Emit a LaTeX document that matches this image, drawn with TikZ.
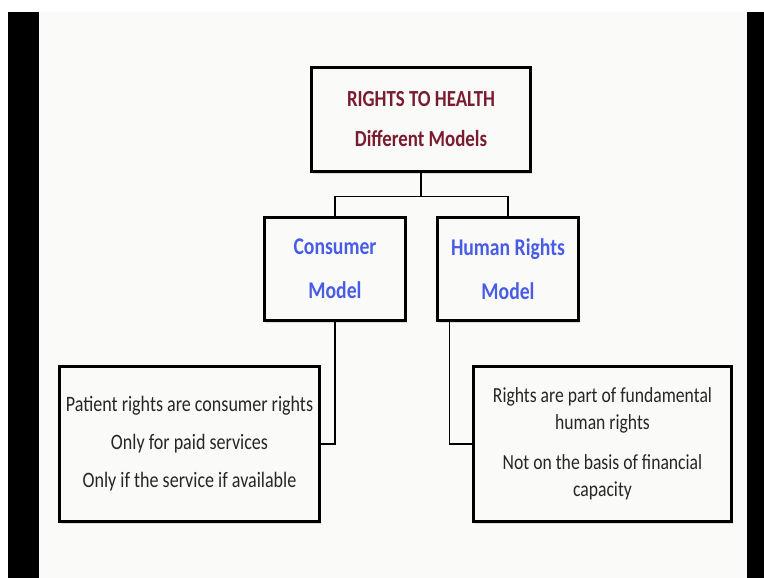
\documentclass[tikz,border=0pt]{standalone}
\usepackage{fontspec}
\setmainfont{Carlito}[FakeStretch=0.82]
\usetikzlibrary{shadows}
\definecolor{titlered}{RGB}{122,28,48}
\definecolor{modelblue}{RGB}{72,92,230}
\definecolor{paper}{RGB}{250,251,249}
\begin{document}
\begin{tikzpicture}[x=1pt,y=-1pt,
	box/.style={draw,line width=3pt,fill=paper,inner sep=0pt,align=center,drop shadow={shadow xshift=1pt,shadow yshift=-2pt,opacity=0.25}},
	modelbox/.style={box,minimum width=141pt,minimum height=103pt,text=modelblue,font=\fontsize{24}{44}\selectfont\bfseries},
	textbox/.style={box,minimum height=155pt,text=black!85},
	link/.style={line width=1.5pt}]
	\useasboundingbox(0,0)rectangle(764,578);
	\fill[white](0,0)rectangle(764,578);
	\fill[paper](39,12)rectangle(747,578);
	\fill[black](8,12)rectangle(39,578);
	\fill[black](747,12)rectangle(764,578);
	\node[box,minimum width=219pt,minimum height=104pt,text=titlered,font=\fontsize{23}{40}\selectfont\bfseries](rights)at(421,119.5){RIGHTS TO HEALTH\\Different Models};
	\node[modelbox](consumer)at(335,269){Consumer\\Model};
	\node[modelbox](humanrights)at(508,269){Human Rights\\Model};
	\node[textbox,minimum width=260pt,font=\fontsize{22}{38}\selectfont](patient)at(189.5,444){Patient rights are consumer rights\\Only for paid services\\Only if the service if available};
	\node[textbox,minimum width=258pt,font=\fontsize{21.5}{27}\selectfont](fundamental)at(602.5,444){Rights are part of fundamental\\human rights\\[13pt]Not on the basis of financial\\capacity};
	\draw[link](rights.south)--++(0,23.5)-|(consumer.north);
	\draw[link](rights.south)--++(0,23.5)-|(humanrights.north);
	\draw[link](consumer.south)|-(patient.east);
	\draw[link](humanrights.south west)++(13.5,0)|-(fundamental.west);
\end{tikzpicture}
\end{document}
